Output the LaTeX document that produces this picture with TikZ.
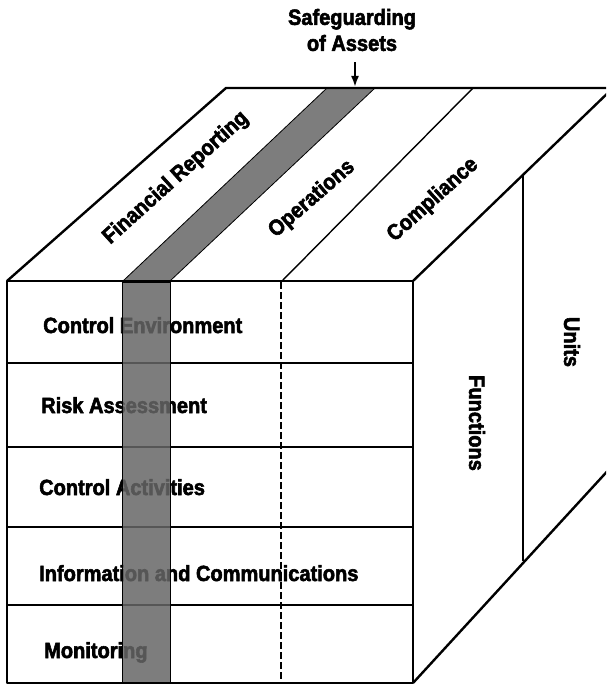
\documentclass[tikz,border=0pt]{standalone}
\usepackage{fontspec}
\setmainfont{Liberation Sans}
\newfontfamily\heavyfont{Liberation Sans Bold}[FakeStretch=0.91, FakeBold=2.5]
\usepackage{tikz}
\usetikzlibrary{arrows.meta, positioning}

\begin{document}
\begin{tikzpicture}[x=1pt, y=-1pt,
    edge/.style={line width=2.4pt, line join=round},
    divider/.style={line width=1.4pt},
    band/.style={fill=black!60, fill opacity=0.85, draw=black, line width=0.8pt},
    lbl/.style={font=\heavyfont\fontsize{22}{26}\selectfont, inner sep=0pt},
    arrow/.style={-{Latex[length=11pt, width=8pt]}, line width=2pt}
]
\useasboundingbox (0,0) rectangle (606,684);
\clip (0,0) rectangle (606,684);

% corners of the cube
\coordinate (ftl) at (7,281);
\coordinate (ftr) at (413,281);
\coordinate (fbl) at (7,683);
\coordinate (fbr) at (413,683);
\coordinate (btl) at (226,88);
\coordinate (btr) at (613,88);
\coordinate (bbr) at (613,465);

% front face rows
\foreach \y in {363,447,527,605}
    \draw[divider] (7,\y) -- (413,\y);
\draw[divider, dash pattern=on 7pt off 3pt] (281,282) -- (281,683);

\node[lbl, anchor=base west] (ctrlenv) at (43,333) {Control Environment};
\node[lbl, anchor=base west] (risk) at (41,413) {Risk Assessment};
\node[lbl, anchor=base west] (ctrlact) at (39,495) {Control Activities};
\node[lbl, anchor=base west] (info) at (39,581) {Information and Communications};
\node[lbl, anchor=base west] (monit) at (44,658) {Monitoring};

% top face
\draw[divider] (282,281) -- (473,88);
\node[lbl, rotate=42] (finrep) at (176,178) {Financial Reporting};
\node[lbl, rotate=41] (oper) at (312,199) {Operations};
\node[lbl, rotate=42] (compl) at (433,200) {Compliance};

% safeguarding band
\draw[band] (123,281) -- (327,88) -- (375,88) -- (170,281) -- cycle;
\draw[band] (122,282) rectangle (170,683);

% right face
\draw[divider] (523,176) -- (523,561);
\node[lbl, rotate=-90] (funcs) at (477,423) {Functions};
\node[lbl, rotate=-90] (units) at (572,342) {Units};

% outline
\draw[edge] (fbl) rectangle (ftr);
\draw[edge] (ftl) -- (btl) -- (btr) -- (ftr);
\draw[edge] (btr) -- (bbr) -- (fbr);

\node[lbl, align=center] (safe) at (352,30) {Safeguarding\\of Assets};
\coordinate (safetip) at (355,87);
\draw[arrow, shorten <=11pt] (safe.south -| safetip) -- (safetip);

\end{tikzpicture}
\end{document}
